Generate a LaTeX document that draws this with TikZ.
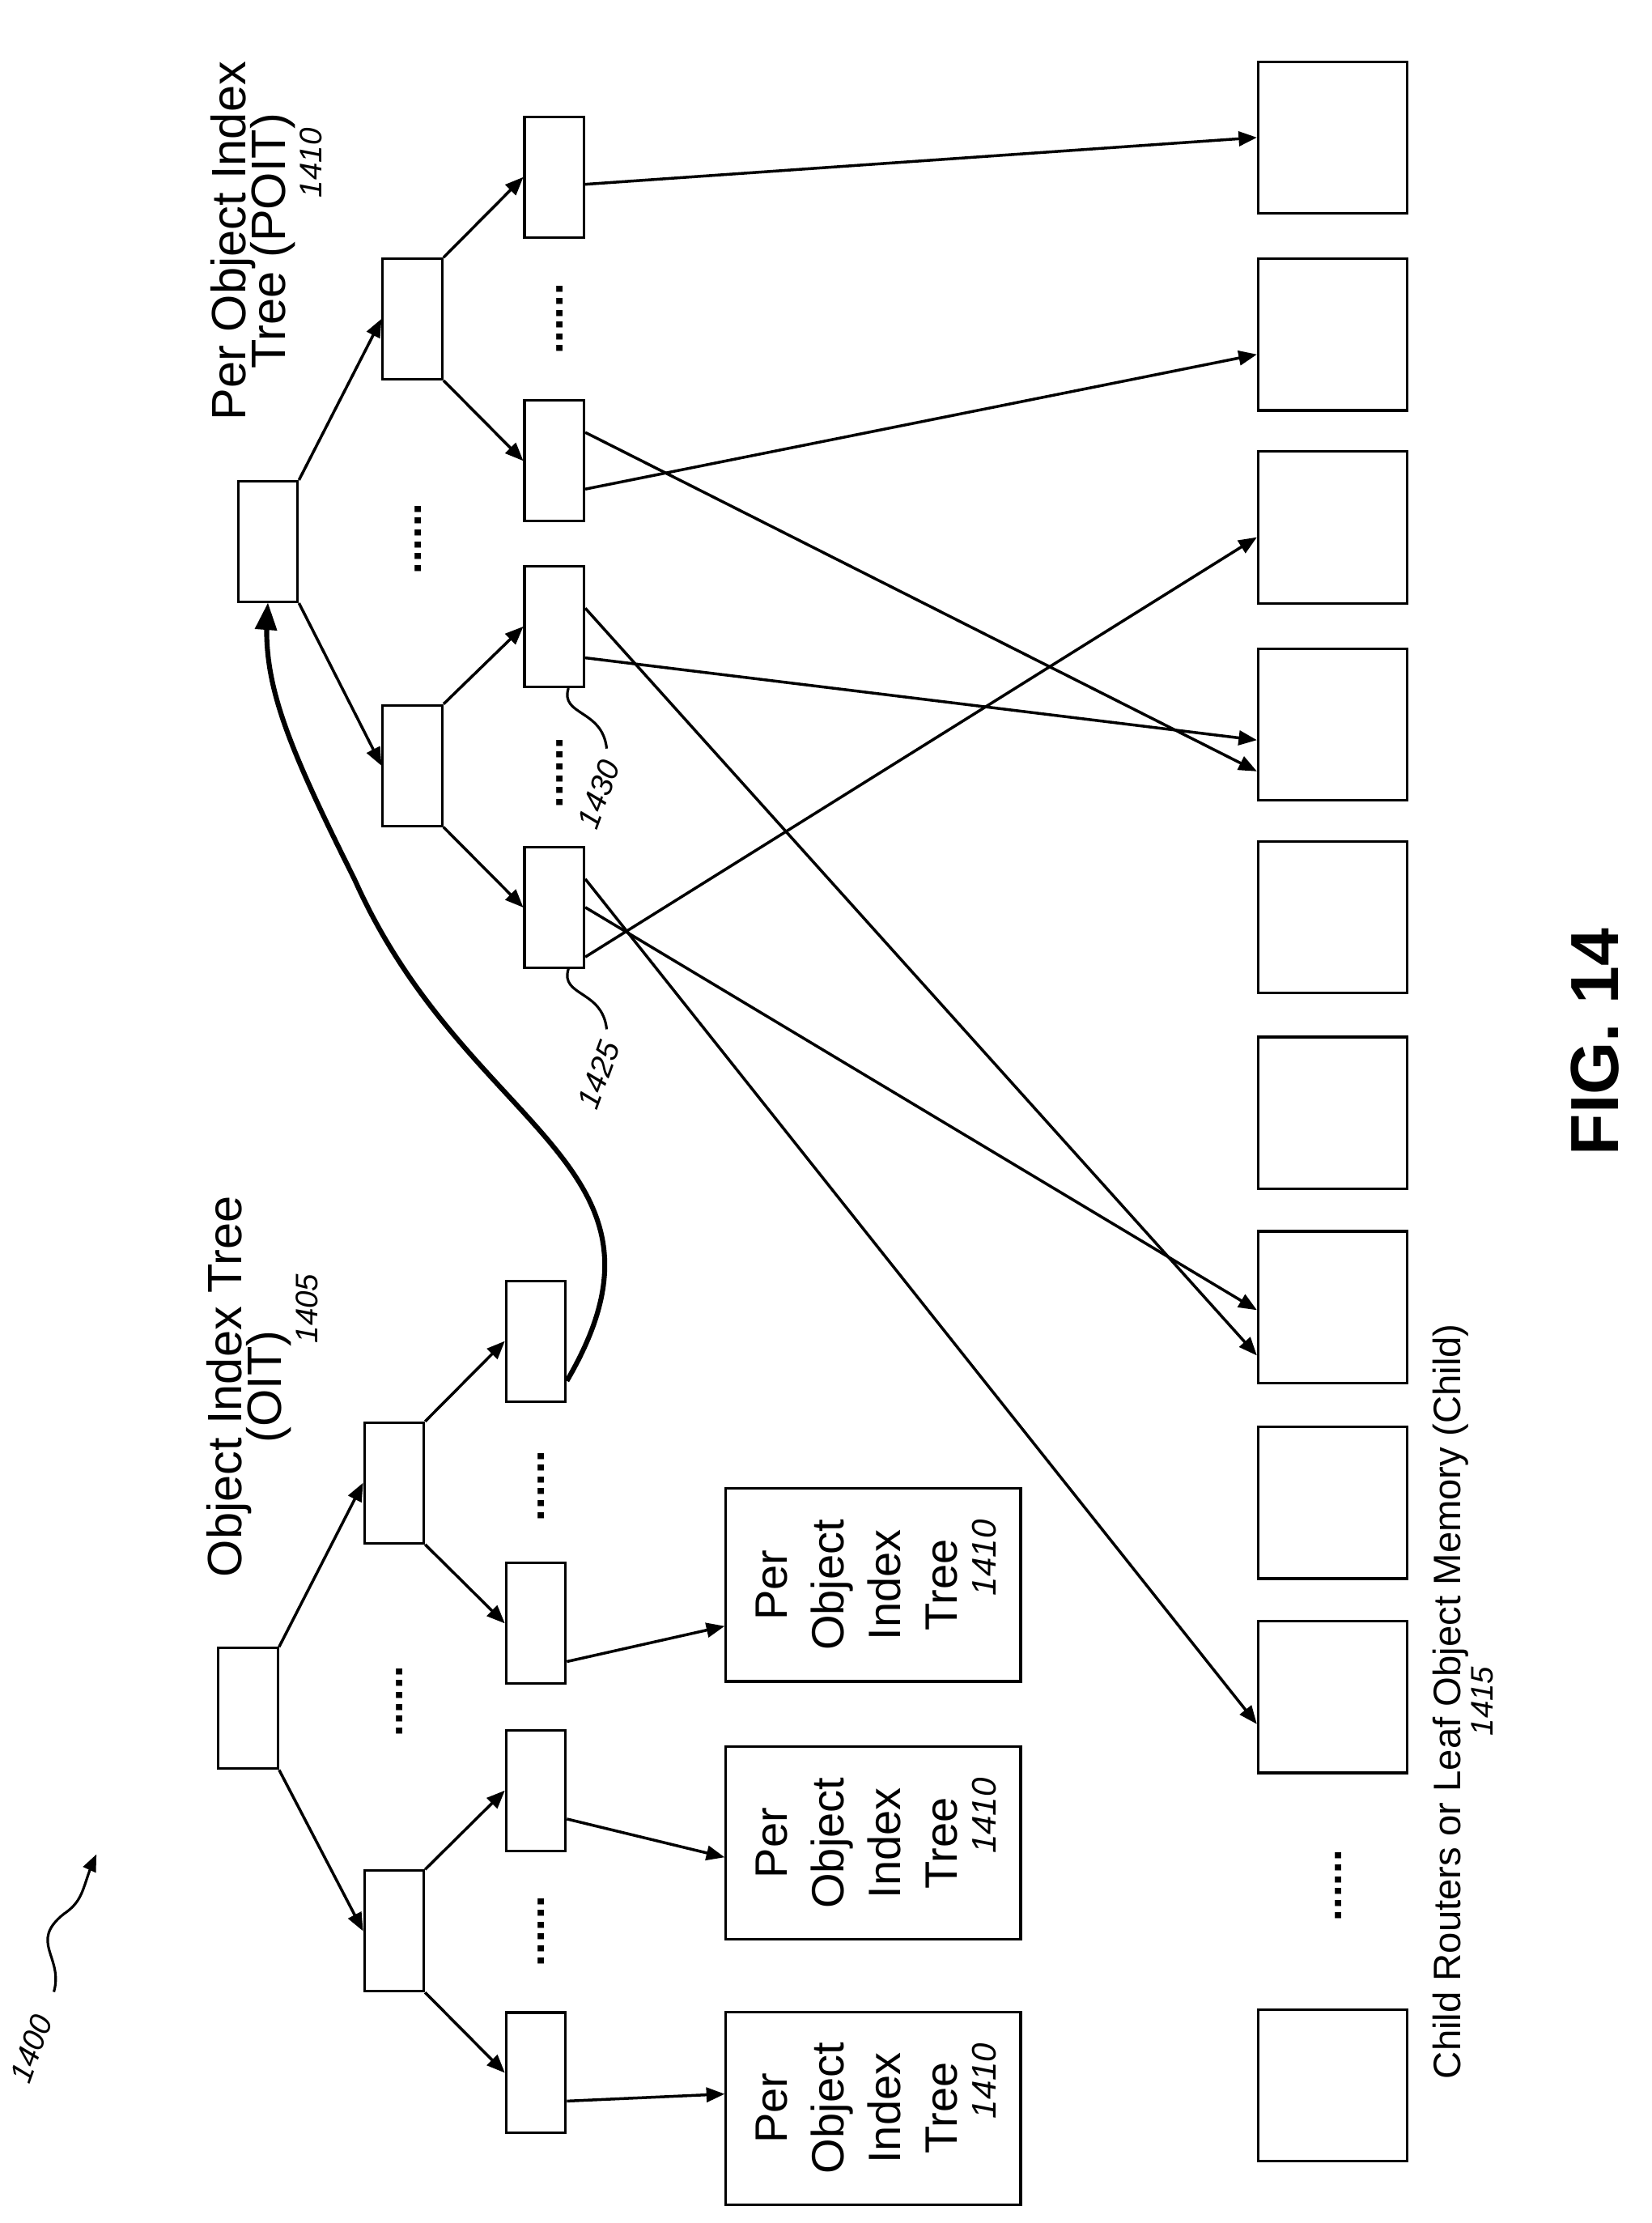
\documentclass[tikz,border=0pt]{standalone}
\usepackage{fontspec}
\setmainfont{Liberation Sans}
\usetikzlibrary{arrows}
\tikzset{
  nd/.style={draw, line width=1.8pt, minimum width=42pt, minimum height=85pt, inner sep=0pt},
  sq/.style={draw, line width=1.8pt, minimum width=105pt, minimum height=107pt, inner sep=0pt},
  pt/.style={draw, line width=1.8pt, minimum width=208pt, minimum height=136pt, inner sep=0pt},
  ptx/.style={rotate=90, align=center, font=\fontsize{32}{40}\selectfont},
  lbl/.style={rotate=90, align=center, font=\fontsize{34}{34}\selectfont},
  num/.style={font=\fontsize{22}{24}\selectfont\itshape},
  dts/.style={rotate=90, font=\fontsize{30}{30}\selectfont\bfseries},
  ln/.style={->, line width=2pt},
}
\newcommand{\potxt}{Per\\Object\\Index\\Tree\\[-13pt]{\fontsize{24}{24}\selectfont\itshape\hspace*{1.6em}1410}}
\begin{document}
\begin{tikzpicture}[x=1pt, y=-1pt, >=triangle 45]
\useasboundingbox (0,0) rectangle (1165,1568);
% object index tree
\node[nd] (o1) at (175,1205) {};
\node[nd] (o2a) at (278,1046) {};
\node[nd] (o2b) at (278,1362) {};
\node[nd] (o3a) at (378,946) {};
\node[nd] (o3b) at (378,1145) {};
\node[nd] (o3c) at (378,1263) {};
\node[nd] (o3d) at (378,1462) {};
\node[dts] (od1) at (282,1200) {......};
\node[dts] (od2) at (382,1048) {......};
\node[dts] (od3) at (382,1362) {......};
\node[pt] (p1) at (616,1118) {};
\node[ptx] at ([xshift=2pt]p1) {\potxt};
\node[pt] (p2) at (616,1300) {};
\node[ptx] at ([xshift=2pt]p2) {\potxt};
\node[pt] (p3) at (616,1487) {};
\node[ptx] at ([xshift=2pt]p3) {\potxt};
\node[lbl] (oit) at (185,978) {Object Index Tree\\[-6pt](OIT)\\[-8pt]{\fontsize{22}{22}\selectfont\itshape\hspace*{5em}1405}};
\draw[ln] (o1.north east) -- (o2a.west);
\draw[ln] (o1.south east) -- (o2b.west);
\draw[ln] (o2a.north east) -- (o3a.west);
\draw[ln] (o2a.south east) -- (o3b.west);
\draw[ln] (o2b.north east) -- (o3c.west);
\draw[ln] (o2b.south east) -- (o3d.west);
\draw[ln] ([yshift=-27pt]o3b.east) -- ([yshift=-29pt]p1.west);
\draw[ln] ([yshift=-20pt]o3c.east) -- ([yshift=-10pt]p2.west);
\draw[ln] ([yshift=-20pt]o3d.east) -- ([yshift=10pt]p3.west);
% per object index tree
\node[nd] (r1) at (189,382) {};
\node[nd] (r2a) at (291,225) {};
\node[nd] (r2b) at (291,540) {};
\node[nd] (r3a) at (391,125) {};
\node[nd] (r3b) at (391,325) {};
\node[nd] (r3c) at (391,442) {};
\node[nd] (r3d) at (391,640) {};
\node[dts] (rd1) at (295,380) {......};
\node[dts] (rd2) at (395,225) {......};
\node[dts] (rd3) at (395,545) {......};
\node[lbl] (poit) at (188,170) {Per Object Index\\[-6pt]Tree (POIT)\\[-8pt]{\fontsize{22}{22}\selectfont\itshape\hspace*{5em}1410}};
\draw[ln] (r1.north east) -- (r2a.west);
\draw[ln] (r1.south east) -- (r2b.west);
\draw[ln] (r2a.north east) -- (r3a.west);
\draw[ln] (r2a.south east) -- (r3b.west);
\draw[ln] (r2b.north east) -- (r3c.west);
\draw[ln] (r2b.south east) -- (r3d.west);
% children
\foreach \n/\y in {1/97,2/236,3/372,4/511,5/647,6/785,7/922,8/1060,9/1197,10/1471}
  \node[sq] (c\n) at (940,\y) {};
\node[dts] (cd) at (944,1330) {......};
\node[lbl, font=\fontsize{27}{27}\selectfont] (child) at (1032,1200) {Child Routers or Leaf Object Memory (Child)\\[-4pt]{\fontsize{22}{22}\selectfont\itshape 1415}};
\draw[ln] ([yshift=-5pt]r3a.east) -- ([yshift=0pt]c1.west);
\draw[ln] ([yshift=-20pt]r3b.east) -- ([yshift=-14pt]c2.west);
\draw[ln] ([yshift=20pt]r3b.east) -- ([yshift=-33pt]c4.west);
\draw[ln] ([yshift=-22pt]r3c.east) -- ([yshift=-11pt]c4.west);
\draw[ln] ([yshift=13pt]r3c.east) -- ([yshift=-34pt]c7.west);
\draw[ln] ([yshift=-35pt]r3d.east) -- ([yshift=-7pt]c3.west);
\draw[ln] (r3d.east) -- ([yshift=-2pt]c7.west);
\draw[ln] ([yshift=20pt]r3d.east) -- ([yshift=-19pt]c9.west);
% link from OIT leaf to POIT root
\draw[->, line width=3.5pt] ([yshift=-28pt]o3a.east) .. controls (490,820) and (330,800) .. (250,620)
  .. controls (200,520) and (185,480) .. (r1.south);
% callouts
\draw[line width=1.8pt] ([xshift=10pt]r3c.south) .. controls (395,505) and (425,500) .. (428,528);
\node[num, rotate=70, anchor=east] (n1430) at (432,534) {1430};
\draw[line width=1.8pt] ([xshift=10pt]r3d.south) .. controls (395,703) and (425,698) .. (428,726);
\node[num, rotate=70, anchor=east] (n1425) at (432,732) {1425};
\node[num, rotate=70] (n1400) at (22,1445) {1400};
\draw[->, line width=1.8pt] (38,1405) .. controls (45,1380) and (20,1370) .. (45,1350) .. controls (60,1340) and (58,1330) .. (68,1308);
\node[rotate=90, font=\fontsize{48}{48}\selectfont\bfseries] (fig) at (1125,735) {FIG. 14};
\end{tikzpicture}
\end{document}
